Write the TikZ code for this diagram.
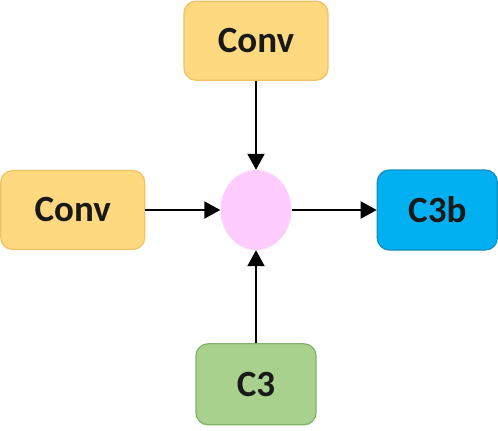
\documentclass[tikz,border=0pt]{standalone}
\usepackage{fontspec}
\setmainfont{Carlito}
\usetikzlibrary{arrows.meta, positioning, shapes.geometric}
\definecolor{convfill}{RGB}{255,217,128}
\definecolor{convline}{RGB}{240,192,100}
\definecolor{bluefill}{RGB}{0,176,240}
\definecolor{blueline}{RGB}{20,140,190}
\definecolor{greenfill}{RGB}{169,209,142}
\definecolor{greenline}{RGB}{130,178,105}
\definecolor{sumfill}{RGB}{255,204,255}

\begin{document}
\begin{tikzpicture}[
  x=1pt, y=-1pt,
  >={Triangle[length=16pt, width=17pt]}, font=\fontsize{37}{42}\selectfont\bfseries,
  node distance = 80pt,
  cv/.style={rectangle, draw=convline, fill=convfill, line width=1.2pt, rounded corners=12pt, minimum width=144pt, minimum height=79pt, text=black!90},
  bb/.style={rectangle, draw=blueline, fill=bluefill, line width=1.2pt, rounded corners=12pt, minimum width=120pt, minimum height=80pt, text=black!90},
  gb/.style={rectangle, draw=greenline, fill=greenfill, line width=1.2pt, rounded corners=12pt, minimum width=120pt, minimum height=81pt, text=black!90},
  sm/.style={ellipse, fill=sumfill, minimum width=71pt, minimum height=80pt, inner sep=0pt},
  a/.style={->, line width=2pt}]
\useasboundingbox (0,0) rectangle (498,431);
\node[sm] at (256,210) (sum) {};
\node[cv, above=89pt of sum] (up) {Conv};
\node[cv, left=75pt of sum] (lf) {Conv};
\node[bb, right=85pt of sum] (out) {C3b};
\node[gb, below=93pt of sum] (c3) {C3};
\draw[a](up)--(sum);
\draw[a](lf)--(sum);
\draw[a](sum)--(out);
\draw[a](c3)--(sum);
\end{tikzpicture}
\end{document}
